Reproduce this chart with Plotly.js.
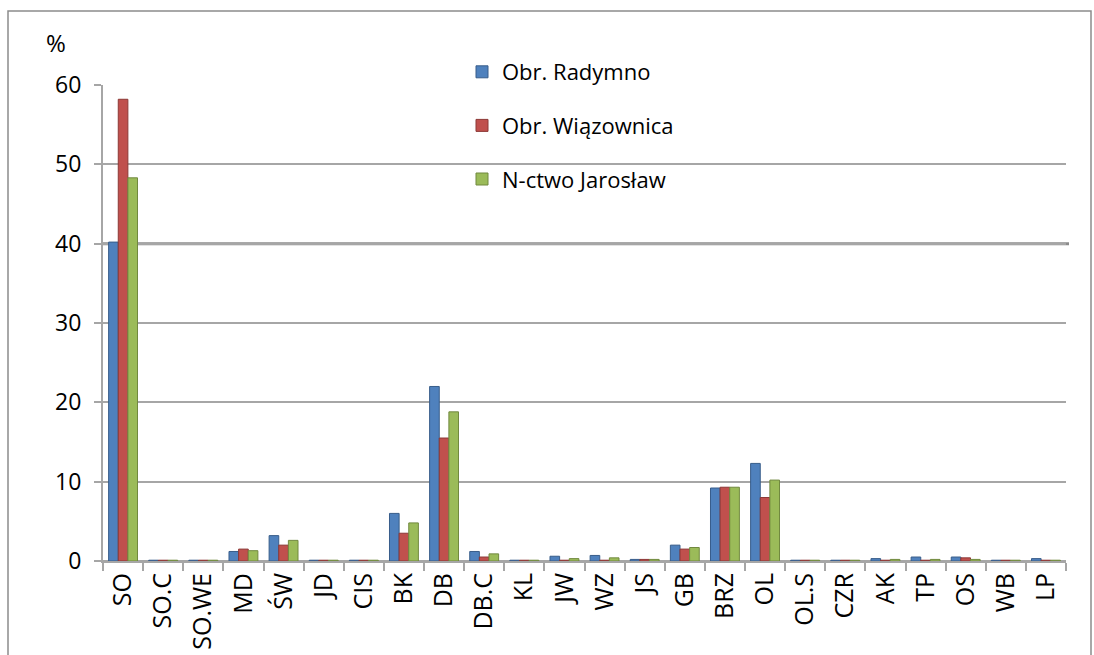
<!DOCTYPE html>
<html>
<head>
<meta charset="utf-8">
<script src="https://cdn.plot.ly/plotly-3.0.1.min.js"></script>
<style>html,body{margin:0;padding:0;background:#fff}#chart{width:1094px;height:655px}</style>
</head>
<body>
<div id="chart"></div>
<script>
const categories = ["SO","SO.C","SO.WE","MD","ŚW","JD","CIS","BK","DB","DB.C","KL","JW","WZ","JS","GB","BRZ","OL","OL.S","CZR","AK","TP","OS","WB","LP"];
const seriesNames = ["Obr. Radymno","Obr. Wiązownica","N-ctwo Jarosław"];
const radymno    = [40.2,0.1,0.1,1.2,3.2,0.1,0.1,6.0,22.0,1.2,0.1,0.6,0.7,0.2,2.0,9.2,12.3,0.1,0.1,0.3,0.5,0.5,0.1,0.3];
const wiazownica = [58.2,0.1,0.1,1.5,2.0,0.1,0.1,3.5,15.5,0.5,0.1,0.1,0.1,0.2,1.5,9.3,8.0,0.1,0.1,0.1,0.1,0.4,0.1,0.1];
const jaroslaw   = [48.3,0.1,0.1,1.3,2.6,0.1,0.1,4.8,18.8,0.9,0.1,0.3,0.4,0.2,1.7,9.3,10.2,0.1,0.1,0.2,0.2,0.2,0.1,0.1];
const yTicks = [0,10,20,30,40,50,60];

const colors = ["#4F81BD","#C0504D","#9BBB59"];
const sides  = ["#385D8A","#8C3836","#71893F"];
const vals = [radymno, wiazownica, jaroslaw];
const FONT = "Open Sans, Liberation Sans, sans-serif";
const FS = 22;

const traces = vals.map((v,i)=>({
  type:"bar", x:categories, y:v, name:seriesNames[i],
  legendgroup:"g"+i,
  marker:{color:colors[i], line:{color:sides[i], width:1}},
  hoverinfo:"x+y"
}));

const W=1094,H=655,L=103,R=28,T=85,B=94;
const pw=W-L-R, ph=H-T-B;
const px=x=>(x-L)/pw, py=y=>(H-B-y)/ph;

const layout = {
  width:W, height:H,
  margin:{l:L,r:R,t:T,b:B,pad:0},
  paper_bgcolor:"#fff", plot_bgcolor:"#fff",
  font:{family:FONT, size:FS, color:"#000"},
  barmode:"group", bargap:0.28, bargroupgap:0,
  showlegend:true,
  legend:{x:px(462), y:py(51), xanchor:"left", yanchor:"top",
    bgcolor:"rgba(0,0,0,0)", font:{family:FONT,size:FS,color:"#000"},
    traceorder:"grouped", tracegroupgap:22, itemwidth:30},
  xaxis:{type:"category", showgrid:false, showline:true, linecolor:"#a6a6a6", linewidth:2,
    ticks:"outside", tickson:"boundaries", ticklen:8, tickcolor:"#a6a6a6", tickwidth:2,
    tickangle:-90, tickfont:{family:FONT,size:25,color:"#000"}, fixedrange:true},
  yaxis:{range:[0,60], tickvals:yTicks, showgrid:true, gridcolor:"#a6a6a6", gridwidth:2,
    zeroline:true, zerolinecolor:"#a6a6a6", zerolinewidth:2,
    showline:true, linecolor:"#a6a6a6", linewidth:2,
    ticks:"outside", ticklen:7, tickcolor:"#a6a6a6", tickwidth:2, ticklabelstandoff:8,
    tickfont:{family:FONT,size:23,color:"#000"}, fixedrange:true},
  annotations:[{text:"%", xref:"paper", yref:"paper", x:px(56), y:py(42),
    xanchor:"center", yanchor:"middle", showarrow:false, font:{family:FONT,size:24,color:"#000"}}],
  shapes:[
    {type:"rect", xref:"paper", yref:"paper", x0:px(8), x1:px(1091), y0:py(680), y1:py(11),
      line:{color:"#8c8c8c", width:1.5}, fillcolor:"rgba(0,0,0,0)", layer:"below"},
    {type:"line", xref:"paper", yref:"y", x0:0, x1:px(1069), y0:40, y1:40,
      line:{color:"#8c8c8c", width:3}, layer:"below"}
  ]
};

Plotly.newPlot("chart", traces, layout, {displayModeBar:false, staticPlot:true});
</script>
</body>
</html>
